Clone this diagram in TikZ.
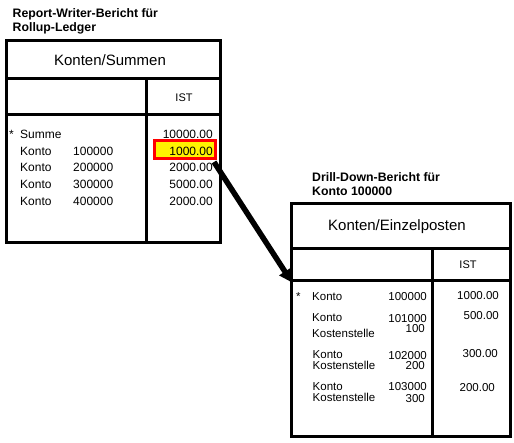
\documentclass[tikz,border=0pt]{standalone}
\usepackage{fontspec}
\setmainfont{Liberation Sans}
\usetikzlibrary{arrows.meta,backgrounds}
\begin{document}
\begin{tikzpicture}[x=1pt,y=-1pt,
  frame/.style={draw,line width=3pt},
  rule/.style={line width=3pt},
  lrow/.style={font=\fontsize{12}{14}\selectfont,inner sep=0pt},
  rrow/.style={font=\fontsize{11.5}{13}\selectfont,inner sep=0pt},
  ttl/.style={font=\fontsize{15}{18}\selectfont,inner sep=0pt,anchor=base},
  ist/.style={font=\fontsize{11}{13}\selectfont,inner sep=0pt,anchor=base},
  hd/.style={font=\bfseries\fontsize{12.3}{14}\selectfont,inner sep=0pt,anchor=base west},
  lw/.style={lrow,anchor=base west},
  le/.style={lrow,anchor=base east},
  rw/.style={rrow,anchor=base west},
  re/.style={rrow,anchor=base east},
  hilite/.style={draw=red,fill=yellow,line width=3pt,inner sep=0pt,minimum width=61pt,minimum height=18pt},
  bigarrow/.style={line width=5.5pt,-{Triangle[width=13pt,length=13pt]}}
]
\useasboundingbox (0,0) rectangle (514,442);

% ---------- left report ----------
\node[hd] (h1a) at (12.5,17.3) {Report-Writer-Bericht für};
\node[hd] (h1b) at (12.5,31) {Rollup-Ledger};

\draw[frame] (6,40) rectangle (220.5,242);
\draw[rule] (6,78.5) -- (220.5,78.5);
\draw[rule] (6,114) -- (220.5,114);
\draw[rule] (146,78.5) -- (146,242);

\node[ttl] (t1) at (110,65) {Konten/Summen};
\node[ist] (i1) at (184,101.7) {IST};

\node[hilite] (hl) at (185,149.5) {};

\node[lw] (s0) at (9,138) {*};
\node[lw] (s1) at (20,138) {Summe};
\node[le] (v0) at (213,138) {10000.00};

\node[lw] (k1) at (20,155) {Konto};
\node[lw] (n1) at (73,155) {100000};
\node[le] (v1) at (213,155) {1000.00};

\node[lw] (k2) at (20,171.5) {Konto};
\node[lw] (n2) at (73,171.5) {200000};
\node[le] (v2) at (213,171.5) {2000.00};

\node[lw] (k3) at (20,188) {Konto};
\node[lw] (n3) at (73,188) {300000};
\node[le] (v3) at (213,188) {5000.00};

\node[lw] (k4) at (20,205) {Konto};
\node[lw] (n4) at (73,205) {400000};
\node[le] (v4) at (213,205) {2000.00};

% ---------- right report ----------
\node[hd] (h2a) at (312,181) {Drill-Down-Bericht für};
\node[hd] (h2b) at (312,195.7) {Konto 100000};

\draw[frame] (291.5,203.5) rectangle (510,436);
\draw[rule] (291.5,248.5) -- (510,248.5);
\draw[rule] (291.5,280.5) -- (510,280.5);
\draw[rule] (432,248.5) -- (432,436);

\node[ttl] (t2) at (397,230) {Konten/Einzelposten};
\node[ist] (i2) at (468,268.7) {IST};

\node[rw] (r0s) at (296,300.5) {*};
\node[rw] (r0k) at (312,300.5) {Konto};
\node[re] (r0n) at (427,300.5) {100000};
\node[re] (r0v) at (499,299) {1000.00};

\node[rw] (r1k) at (312,321) {Konto};
\node[re] (r1n) at (427,322.5) {101000};
\node[rw] (r1c) at (312,337) {Kostenstelle};
\node[re] (r1m) at (425,332.7) {100};
\node[re] (r1v) at (499,319.3) {500.00};

\node[rw] (r2k) at (312.5,358.8) {Konto};
\node[re] (r2n) at (427,359) {102000};
\node[rw] (r2c) at (312.5,369.8) {Kostenstelle};
\node[re] (r2m) at (425,369) {200};
\node[re] (r2v) at (498,357.3) {300.00};

\node[rw] (r3k) at (312.5,390.8) {Konto};
\node[re] (r3n) at (427,390.8) {103000};
\node[rw] (r3c) at (312.5,401.2) {Kostenstelle};
\node[re] (r3m) at (425,402) {300};
\node[re] (r3v) at (495,391) {200.00};

% ---------- arrow ----------
\coordinate (tip) at (292,282.5);
\begin{scope}[on background layer]
\draw[bigarrow] ([xshift=-3pt,yshift=-2pt]hl.south east) -- (tip);
\end{scope}
\end{tikzpicture}
\end{document}
